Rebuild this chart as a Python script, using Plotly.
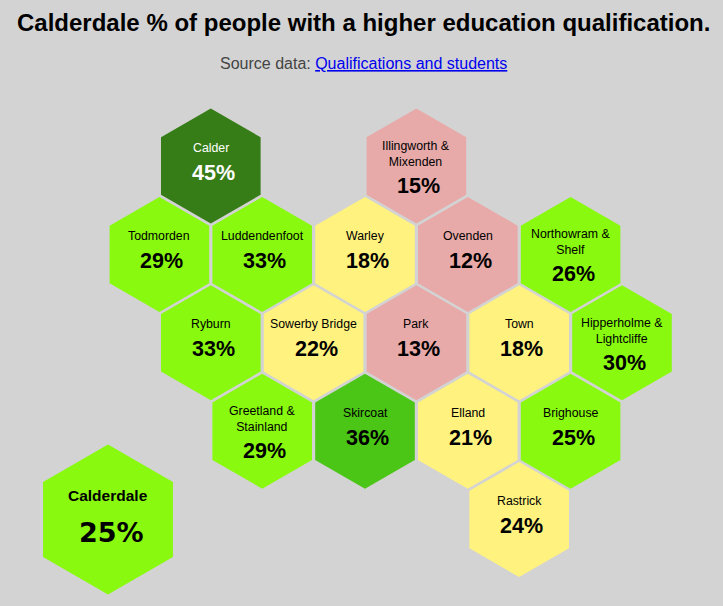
import plotly.graph_objects as go

wards = ["Calder", "Illingworth &<br>Mixenden", "Todmorden", "Luddendenfoot", "Warley", "Ovenden",
         "Northowram &<br>Shelf", "Ryburn", "Sowerby Bridge", "Park", "Town", "Hipperholme &<br>Lightcliffe",
         "Greetland &<br>Stainland", "Skircoat", "Elland", "Brighouse", "Rastrick"]
percent = [45, 15, 29, 33, 18, 12, 26, 33, 22, 13, 18, 30, 29, 36, 21, 25, 24]
hex_col = [1, 5, 0, 2, 4, 6, 8, 1, 3, 5, 7, 9, 2, 4, 6, 8, 7]
hex_row = [0, 0, 1, 1, 1, 1, 1, 2, 2, 2, 2, 2, 3, 3, 3, 3, 4]
ward_colors = ["#377d17", "#e8a9a9", "#88f90f", "#88f90f", "#fff27f", "#e8a9a9", "#88f90f", "#88f90f",
               "#fff27f", "#e8a9a9", "#fff27f", "#88f90f", "#88f90f", "#4bc516", "#fff27f", "#88f90f", "#fff27f"]
overall_name = ["Calderdale"]
overall_percent = [25]
overall_col = [-1]
overall_row = [4]
overall_color = ["#88f90f"]

W, H = 723, 606
X0, XS = 159.4, 51.4
Y0, YS = 166.0, 88.4

fig = go.Figure()
fig.add_trace(go.Scatter(x=hex_col, y=hex_row, mode="markers", hoverinfo="text",
                         hovertext=[f"{n}: {p}%" for n, p in zip(wards, percent)],
                         marker=dict(symbol="hexagon", size=115, color=ward_colors, line=dict(width=0))))
fig.add_trace(go.Scatter(x=overall_col, y=overall_row, mode="markers", hoverinfo="skip",
                         marker=dict(symbol="hexagon", size=150, color=overall_color, line=dict(width=0))))

for n, p, c, r, col in zip(wards, percent, hex_col, hex_row, ward_colors):
    ink = "#ffffff" if col == "#377d17" else "#000000"
    two = "<br>" in n
    fig.add_annotation(x=c, y=r, text=n, showarrow=False, yanchor="middle", yshift=12 if two else 18.5,
                       font=dict(family="Liberation Sans", size=12.3, color=ink))
    fig.add_annotation(x=c, y=r, text=f"{p}%", showarrow=False, xshift=2.5, yshift=-20 if two else -6.5,
                       font=dict(family="Liberation Sans", size=21.5, color=ink, weight="bold"))

fig.add_annotation(x=overall_col[0], y=overall_row[0], text=overall_name[0], showarrow=False, yshift=24,
                   font=dict(family="Liberation Sans", size=15.5, color="#000000", weight="bold"))
fig.add_annotation(x=overall_col[0], y=overall_row[0], text=f"{overall_percent[0]}%", showarrow=False,
                   xshift=3, yshift=-13,
                   font=dict(family="DejaVu Sans", size=27, color="#000000", weight="bold"))

fig.add_annotation(xref="paper", yref="paper", x=0.5, xshift=2, y=1 - 23 / H, yanchor="middle", showarrow=False,
                   text="Calderdale % of people with a higher education qualification.",
                   font=dict(family="Liberation Sans", size=24, color="#000000", weight="bold"))
fig.add_annotation(xref="paper", yref="paper", x=0.5, xshift=2, y=1 - 63.5 / H, yanchor="middle", showarrow=False,
                   text='Source data: <span style="color:#0000ee"><u>Qualifications and students</u></span>',
                   font=dict(family="Liberation Sans", size=16, color="#444444"))

fig.update_layout(width=W, height=H, margin=dict(l=0, r=0, t=0, b=0), autosize=False,
                  paper_bgcolor="#d3d3d3", plot_bgcolor="#d3d3d3", showlegend=False)
fig.update_xaxes(visible=False, range=[-X0 / XS, (W - X0) / XS])
fig.update_yaxes(visible=False, range=[(H - Y0) / YS, -Y0 / YS])
fig.write_html("out.html", config=dict(displayModeBar=False),
               post_script="document.body.style.margin='0';document.body.style.overflow='hidden';document.body.style.background='#d3d3d3';")
